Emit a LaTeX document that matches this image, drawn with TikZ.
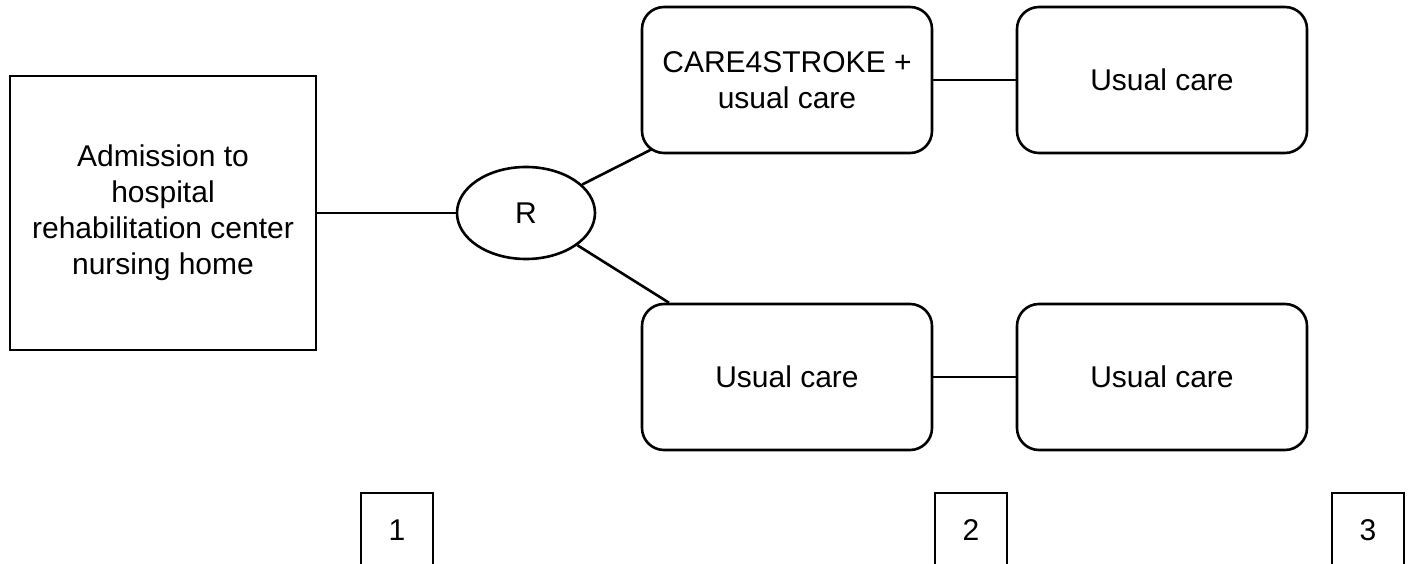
\documentclass[tikz,border=0pt]{standalone}
\usepackage{fontspec}
\setmainfont{Liberation Sans}
\usetikzlibrary{shapes.geometric,calc}
\begin{document}
\begin{tikzpicture}[x=1pt,y=-1pt,
  every node/.style={font=\fontsize{30}{36}\selectfont},
  box/.style={draw,line width=2.6pt,minimum width=306pt,minimum height=274pt,align=center,inner sep=0pt},
  rbox/.style={draw,line width=2.6pt,rounded corners=22pt,minimum width=290pt,minimum height=146pt,align=center,inner sep=0pt},
  oval/.style={draw,ellipse,line width=2.6pt,minimum width=138pt,minimum height=92pt,inner sep=0pt},
  numbox/.style={draw,line width=2.6pt,minimum width=72pt,minimum height=74pt,inner sep=0pt},
  link/.style={line width=2.6pt}]
\useasboundingbox (0,0) rectangle (1409,564);
\node[box] (adm) at (163,213) {Admission to\\hospital\\rehabilitation center\\nursing home};
\node[oval] (R) at (526,213) {R};
\node[rbox] (t1) at (787,80) {CARE4STROKE +\\usual care};
\node[rbox] (t2) at (1162,80) {Usual care};
\node[rbox] (b1) at (787,377) {Usual care};
\node[rbox] (b2) at (1162,377) {Usual care};
\node[numbox] (n1) at (397,530) {1};
\node[numbox] (n2) at (971,530) {2};
\node[numbox] (n3) at (1368,530) {3};
\coordinate (t1c) at ($(t1.south west)+(11,-5)$);
\draw[link] (adm) -- (R);
\draw[link] (R) -- (t1c);
\draw[link] (R) -- (b1);
\draw[link] (t1) -- (t2);
\draw[link] (b1) -- (b2);
\end{tikzpicture}
\end{document}
